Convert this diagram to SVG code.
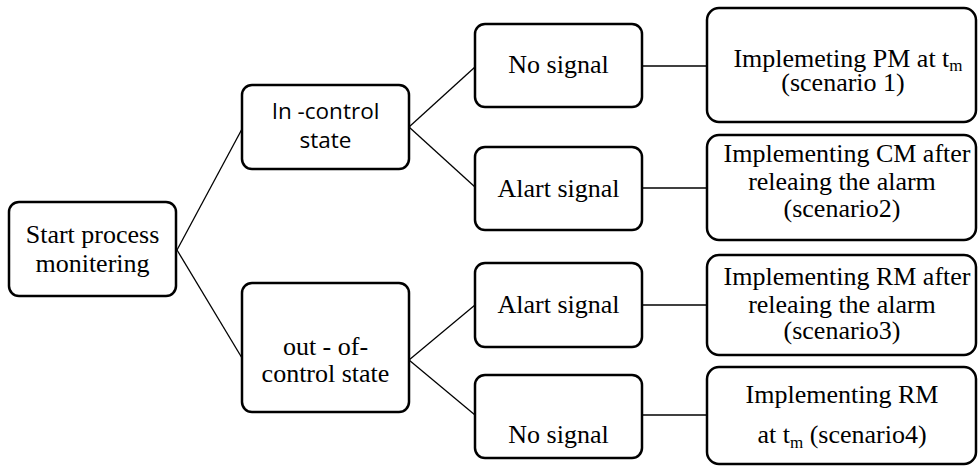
<svg xmlns="http://www.w3.org/2000/svg" width="978" height="466" viewBox="0 0 978 466">
<style>
.box{fill:#fff;stroke:#000;stroke-width:2.5}
.t{font-family:"Liberation Serif","Times New Roman",serif;font-size:26px;fill:#000;text-anchor:middle}
.s{font-family:"Open Sans","Liberation Sans",sans-serif;font-size:22.5px;fill:#000;text-anchor:middle}
.sub{font-size:17px}
.c{stroke:#000;stroke-width:1.3;fill:none}
</style>
<rect width="978" height="466" fill="#fff"/>
<g id="connectors">
<line class="c" x1="177" y1="250" x2="242" y2="129"/>
<line class="c" x1="177" y1="250" x2="242" y2="358"/>
<line class="c" x1="409" y1="127" x2="475" y2="67"/>
<line class="c" x1="409" y1="127" x2="475" y2="187"/>
<line class="c" x1="409" y1="360" x2="475" y2="305"/>
<line class="c" x1="409" y1="360" x2="475" y2="415"/>
<line class="c" x1="642" y1="66" x2="707" y2="66"/>
<line class="c" x1="642" y1="188" x2="707" y2="188"/>
<line class="c" x1="642" y1="305" x2="707" y2="305"/>
<line class="c" x1="642" y1="415" x2="707" y2="415"/>
</g>
<g id="start">
<rect class="box" x="9" y="202" width="167" height="94" rx="10"/>
<text class="t" x="92.5" y="243">Start process</text>
<text class="t" x="92.5" y="272">monitering</text>
</g>
<g id="in-control">
<rect class="box" x="242" y="85" width="167" height="84" rx="10"/>
<text class="s" x="325.5" y="119">In -control</text>
<text class="s" x="325.5" y="148">state</text>
</g>
<g id="out-control">
<rect class="box" x="242" y="283" width="167" height="129" rx="10"/>
<text class="t" x="325.5" y="355">out - of-</text>
<text class="t" x="325.5" y="382">control state</text>
</g>
<g id="no-signal-1">
<rect class="box" x="475" y="24" width="167" height="83" rx="10"/>
<text class="t" x="558.5" y="73">No signal</text>
</g>
<g id="alart-signal-1">
<rect class="box" x="475" y="147" width="167" height="83" rx="10"/>
<text class="t" x="558.5" y="197">Alart signal</text>
</g>
<g id="alart-signal-2">
<rect class="box" x="475" y="263" width="167" height="84" rx="10"/>
<text class="t" x="558.5" y="313">Alart signal</text>
</g>
<g id="no-signal-2">
<rect class="box" x="475" y="375" width="167" height="83" rx="10"/>
<text class="t" x="558.5" y="443">No signal</text>
</g>
<g id="scenario1">
<rect class="box" x="707" y="8" width="269" height="114" rx="12"/>
<text class="t" x="848" y="67">Implemeting PM at t<tspan class="sub" dy="4">m</tspan></text>
<text class="t" x="843" y="91">(scenario 1)</text>
</g>
<g id="scenario2">
<rect class="box" x="707" y="135" width="269" height="105" rx="12"/>
<text class="t" x="847" y="162">Implementing CM after</text>
<text class="t" x="842" y="190">releaing the alarm</text>
<text class="t" x="842" y="217">(scenario2)</text>
</g>
<g id="scenario3">
<rect class="box" x="707" y="255" width="269" height="100" rx="12"/>
<text class="t" x="847" y="285">Implementing RM after</text>
<text class="t" x="842" y="313">releaing the alarm</text>
<text class="t" x="842" y="339">(scenario3)</text>
</g>
<g id="scenario4">
<rect class="box" x="707" y="367" width="269" height="97" rx="12"/>
<text class="t" x="842" y="403">Implementing RM</text>
<text class="t" x="842" y="443">at t<tspan class="sub" dy="5">m</tspan><tspan dy="-5"> (scenario4)</tspan></text>
</g>
</svg>
